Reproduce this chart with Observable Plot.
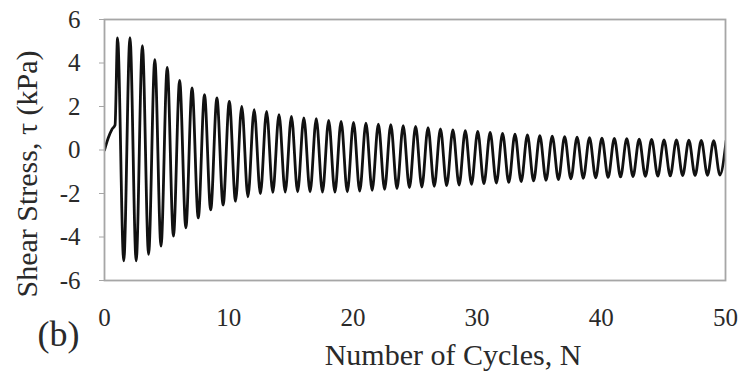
<!DOCTYPE html>
<html>
<head>
<meta charset="utf-8">
<script src="https://cdn.jsdelivr.net/npm/d3@7"></script>
<script src="https://cdn.jsdelivr.net/npm/@observablehq/plot@0.6"></script>
<style>
  html, body { margin: 0; padding: 0; background: #fff; }
</style>
</head>
<body>
<div id="chart"></div>
<script>
// Tick labels
const xTicks = [0, 10, 20, 30, 40, 50];
const yTicks = [-6, -4, -2, 0, 2, 4, 6];

// Initial ramp before cyclic loading (N, τ)
const rampN   = [0, 0.3, 0.6, 0.85];
const rampTau = [0, 0.55, 0.95, 1.15];

// Cycle numbers
const cycles = [1,2,3,4,5,6,7,8,9,10,11,12,13,14,15,16,17,18,19,20,21,22,23,24,25,26,27,28,29,30,31,32,33,34,35,36,37,38,39,40,41,42,43,44,45,46,47,48,49,50];

// Positive peak shear stress of each cycle (kPa)
const peakTau = [5.15, 5.17, 4.8, 4.15, 3.8, 3.2, 2.85, 2.54, 2.39, 2.24, 2.01, 1.85, 1.78, 1.62, 1.55, 1.48, 1.44, 1.36, 1.32, 1.27, 1.24, 1.19, 1.16, 1.12, 1.09, 1.03, 0.97, 0.92, 0.89, 0.85, 0.81, 0.76, 0.73, 0.69, 0.66, 0.64, 0.61, 0.59, 0.57, 0.55, 0.53, 0.52, 0.5, 0.49, 0.47, 0.47, 0.45, 0.44, 0.43, 0.42];

// Negative peak shear stress of each cycle (kPa)
const troughTau = [-5.1, -5.1, -4.8, -4.42, -3.96, -3.58, -3.12, -2.75, -2.53, -2.35, -2.15, -2.01, -1.95, -1.93, -1.92, -1.92, -1.93, -1.94, -1.92, -1.89, -1.85, -1.81, -1.77, -1.73, -1.7, -1.67, -1.64, -1.61, -1.58, -1.55, -1.52, -1.49, -1.45, -1.42, -1.39, -1.36, -1.33, -1.3, -1.28, -1.26, -1.24, -1.22, -1.21, -1.2, -1.19, -1.18, -1.17, -1.16, -1.15];

// Phase of peak / trough within each cycle
const peakPhase = 0.05;
const troughPhase = 0.55;

const series = [];
rampN.forEach((n, i) => series.push({n, tau: rampTau[i]}));
cycles.forEach((c, i) => {
  series.push({n: c + peakPhase, tau: peakTau[i]});
  if (i < troughTau.length) series.push({n: c + troughPhase, tau: troughTau[i]});
});

const serif = "'Liberation Serif', 'Times New Roman', serif";

const chart = Plot.plot({
  width: 740,
  height: 371,
  marginLeft: 104,
  marginRight: 15,
  marginTop: 19,
  marginBottom: 91,
  style: {fontFamily: serif, fontSize: "25px", color: "#2a2a2a", background: "#fff", overflow: "visible"},
  x: {domain: [0, 50]},
  y: {domain: [-6, 6]},
  marks: [
    Plot.line(series, {x: "n", y: "tau", curve: "monotone-x", stroke: "#111", strokeWidth: 2.8, clip: true}),
    Plot.frame({stroke: "#a6a6a6", strokeWidth: 1.8}),
    Plot.axisY(yTicks, {tickSize: 5, tickPadding: 19, tickFormat: d => String(d), stroke: "#a6a6a6", label: null, fontSize: 25}),
    Plot.axisX(xTicks, {tickSize: 0, tickPadding: 28, tickFormat: d => String(d), label: null, fontSize: 25}),
    Plot.text(["Number of Cycles, N"], {text: d => d, frameAnchor: "bottom", textAnchor: "middle", lineAnchor: "middle", dx: 38, dy: 75, fontSize: 30, fill: "#2a2a2a"}),
    Plot.text(["Shear Stress, τ (kPa)"], {text: d => d, frameAnchor: "left", textAnchor: "middle", lineAnchor: "middle", rotate: -90, dx: -77, dy: 24, fontSize: 30, fill: "#2a2a2a"}),
    Plot.text(["(b)"], {text: d => d, frameAnchor: "bottom-left", textAnchor: "middle", lineAnchor: "middle", dx: -46, dy: 54, fontSize: 36, fill: "#2a2a2a"})
  ]
});
document.getElementById("chart").appendChild(chart);
</script>
</body>
</html>
